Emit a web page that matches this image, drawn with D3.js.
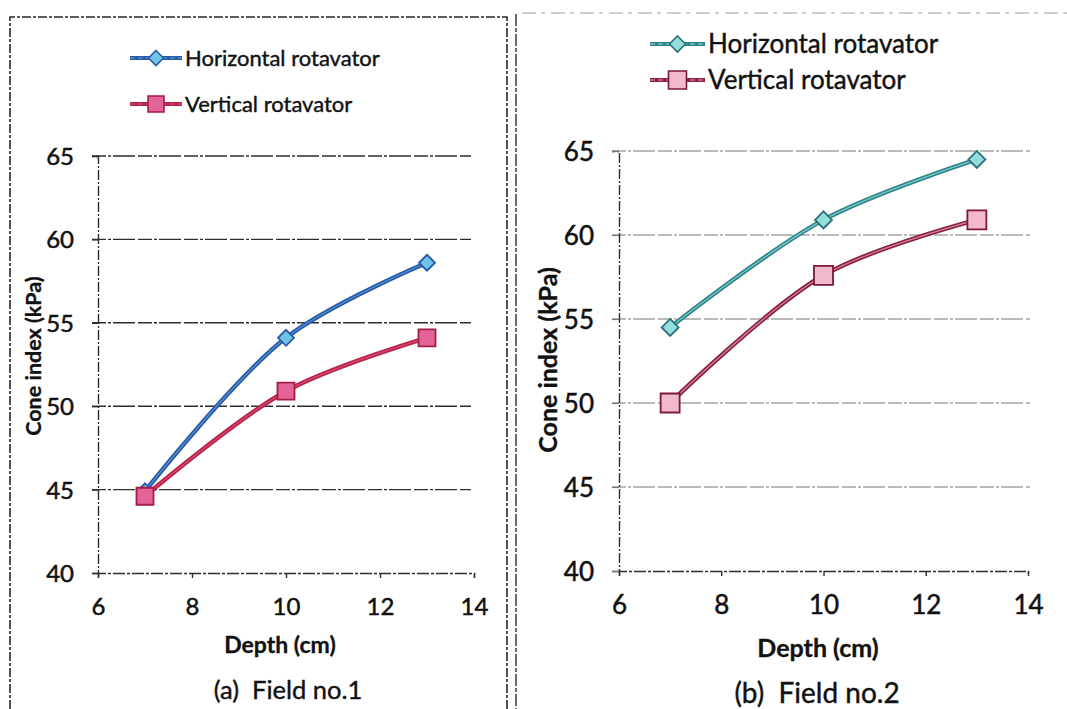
<!DOCTYPE html>
<html>
<head>
<meta charset="utf-8">
<script src="https://cdn.jsdelivr.net/npm/d3@7"></script>
<style>
  html, body { margin: 0; padding: 0; background: #ffffff; }
  svg { display: block; font-family: Lato, "Open Sans", sans-serif; }
</style>
</head>
<body>
<svg id="chart" width="1067" height="709"></svg>
<script>
// Cone index vs depth for two rotavator types in two fields
const depths = [7, 10, 13];
const field1Horizontal = [44.9, 54.1, 58.6];
const field1Vertical = [44.6, 50.9, 54.1];
const field2Horizontal = [54.5, 60.9, 64.5];
const field2Vertical = [50.0, 57.6, 60.9];
const seriesNames = ["Horizontal rotavator", "Vertical rotavator"];
const xTicks = [6, 8, 10, 12, 14];
const yTicks = [40, 45, 50, 55, 60, 65];
const xDomain = [6, 14];
const yDomain = [40, 65];
const captions = ["(a)  Field no.1", "(b)  Field no.2"];
const xTitle = "Depth (cm)";
const yTitle = "Cone index (kPa)";

const svg = d3.select("#chart");

// Panel frames (dashed, as printed)
const frame = svg.append("g").attr("fill", "none");
frame.append("path").attr("d", "M10,709 V17 H507 V709")
  .attr("stroke", "#2a2a2a").attr("stroke-width", 1.6).attr("stroke-dasharray", "9,2,3,2");
frame.append("line").attr("x1", 516).attr("x2", 516).attr("y1", 14).attr("y2", 709)
  .attr("stroke", "#2a2a2a").attr("stroke-width", 1.4).attr("stroke-dasharray", "12,2,4,2");
frame.append("line").attr("x1", 522).attr("x2", 1067).attr("y1", 13).attr("y2", 13)
  .attr("stroke", "#a0a0a0").attr("stroke-width", 1.2).attr("stroke-dasharray", "14,5,4,6");

const panels = [
  {
    x0: 98, x1: 474, y0: 573, y1: 156,
    gridLeft: 92, gridRight: 471, gridColor: "#2e2e2e", gridWidth: 1.4,
    tickLabelRight: 74, xLabelY: 607, tickSize: 24,
    yTitleX: 33, yTitleY: 356, yTitleSize: 21.5,
    xTitleX: 280, xTitleY: 645, xTitleSize: 23,
    captionX: 288, captionY: 690, captionSize: 25.5, caption: captions[0],
    legendX: 130, legendTextX: 185, legendY: [58, 104], legendSize: 22,
    series: [
      { values: field1Horizontal, marker: "diamond", outer: "#2a5aa6", inner: "#5aa0d8", fill: "#70c4ea", edge: "#2a5aa6", size: 16 },
      { values: field1Vertical, marker: "square", outer: "#b52348", inner: "#e0507a", fill: "#e4649a", edge: "#a41d43", size: 17 }
    ]
  },
  {
    x0: 619, x1: 1028, y0: 571, y1: 151,
    gridLeft: 612, gridRight: 1030, gridColor: "#777777", gridWidth: 1.2,
    tickLabelRight: 594, xLabelY: 605, tickSize: 26,
    yTitleX: 548, yTitleY: 360, yTitleSize: 25,
    xTitleX: 818, xTitleY: 648, xTitleSize: 25,
    captionX: 817, captionY: 693, captionSize: 28, caption: captions[1],
    legendX: 650, legendTextX: 708, legendY: [44, 80], legendSize: 26,
    series: [
      { values: field2Horizontal, marker: "diamond", outer: "#2f8388", inner: "#8cdcdc", fill: "#92dede", edge: "#2c7076", size: 17 },
      { values: field2Vertical, marker: "square", outer: "#8a1f3c", inner: "#e3a0b6", fill: "#f2b8cc", edge: "#7a1a34", size: 19 }
    ]
  }
];

function markerPath(type, s) {
  const h = s / 2;
  if (type === "diamond") return `M0,${-h}L${h},0L0,${h}L${-h},0Z`;
  return `M${-h},${-h}H${h}V${h}H${-h}Z`;
}

// Slightly heavier text, as in the printed figure
function ink(sel, w) {
  return sel.attr("fill", "#111").attr("stroke", "#111").attr("stroke-width", w).attr("paint-order", "stroke");
}

panels.forEach(p => {
  const x = d3.scaleLinear().domain(xDomain).range([p.x0, p.x1]);
  const y = d3.scaleLinear().domain(yDomain).range([p.y0, p.y1]);
  const g = svg.append("g");

  // Horizontal gridlines
  g.append("g").selectAll("line").data(yTicks.slice(1)).join("line")
    .attr("x1", p.gridLeft).attr("x2", p.gridRight)
    .attr("y1", d => y(d)).attr("y2", d => y(d))
    .attr("stroke", p.gridColor).attr("stroke-width", p.gridWidth)
    .attr("stroke-dasharray", "14,2,3,2,22,3");

  // Y axis
  const yAxis = g.append("g").attr("transform", `translate(${p.x0},0)`)
    .call(d3.axisLeft(y).tickValues(yTicks).tickSize(p.x0 - p.gridLeft).tickPadding(0).tickFormat(d3.format("d")));
  yAxis.select(".domain").attr("stroke", "#2e2e2e").attr("stroke-width", 1.4).attr("stroke-dasharray", "10,2,2,2");
  yAxis.selectAll(".tick line").attr("stroke", p.gridColor).attr("stroke-width", p.gridWidth);
  ink(yAxis.selectAll(".tick text")
    .attr("x", p.tickLabelRight - p.x0).attr("dy", "0.35em")
    .attr("font-size", p.tickSize).attr("font-family", "Lato, sans-serif"), 0.5);

  // X axis
  const xAxis = g.append("g").attr("transform", `translate(0,${p.y0})`)
    .call(d3.axisBottom(x).tickValues(xTicks).tickSize(5).tickSizeOuter(5).tickFormat(d3.format("d")));
  xAxis.select(".domain").attr("stroke", "#2e2e2e").attr("stroke-width", 1.4).attr("stroke-dasharray", "12,2,3,2");
  xAxis.selectAll(".tick line").attr("stroke", "#2e2e2e").attr("stroke-width", 1.4);
  ink(xAxis.selectAll(".tick text")
    .attr("y", p.xLabelY - p.y0).attr("dy", "0.35em")
    .attr("font-size", p.tickSize).attr("font-family", "Lato, sans-serif"), 0.5);

  // Axis titles and caption
  ink(g.append("text").text(yTitle)
    .attr("transform", `translate(${p.yTitleX},${p.yTitleY}) rotate(-90)`)
    .attr("text-anchor", "middle").attr("dy", "0.35em")
    .attr("font-size", p.yTitleSize).attr("font-weight", 700), 0.3);
  ink(g.append("text").text(xTitle)
    .attr("x", p.xTitleX).attr("y", p.xTitleY).attr("dy", "0.35em")
    .attr("text-anchor", "middle").attr("font-size", p.xTitleSize).attr("font-weight", 700), 0.3);
  ink(g.append("text").text(p.caption)
    .attr("x", p.captionX).attr("y", p.captionY).attr("dy", "0.35em")
    .attr("text-anchor", "middle").attr("font-size", p.captionSize)
    .attr("xml:space", "preserve").style("white-space", "pre"), 0.4);

  // Series lines (smoothed) and markers
  const line = d3.line().x(d => x(d.x)).y(d => y(d.y)).curve(d3.curveCatmullRom.alpha(0.5));
  p.series.forEach(s => {
    const pts = depths.map((d, i) => ({ x: d, y: s.values[i] }));
    g.append("path").datum(pts).attr("d", line)
      .attr("fill", "none").attr("stroke", s.outer).attr("stroke-width", 4.5).attr("stroke-linecap", "round");
    g.append("path").datum(pts).attr("d", line)
      .attr("fill", "none").attr("stroke", s.inner).attr("stroke-width", 1.2).attr("stroke-opacity", 0.8);
  });
  p.series.forEach(s => {
    const pts = depths.map((d, i) => ({ x: d, y: s.values[i] }));
    g.append("g").selectAll("path").data(pts).join("path")
      .attr("transform", d => `translate(${x(d.x)},${y(d.y)})`)
      .attr("d", markerPath(s.marker, s.size))
      .attr("fill", s.fill).attr("stroke", s.edge).attr("stroke-width", 1.8);
  });

  // Legend
  const lg = g.append("g");
  p.series.forEach((s, i) => {
    const ly = p.legendY[i];
    const lx1 = p.legendX, lx2 = p.legendTextX - 3;
    lg.append("line").attr("x1", lx1).attr("x2", lx2).attr("y1", ly).attr("y2", ly)
      .attr("stroke", s.outer).attr("stroke-width", 4);
    lg.append("line").attr("x1", lx1).attr("x2", lx2).attr("y1", ly).attr("y2", ly)
      .attr("stroke", s.inner).attr("stroke-width", 1.2).attr("stroke-dasharray", "5,3");
    lg.append("path").attr("transform", `translate(${(lx1 + lx2) / 2},${ly})`)
      .attr("d", markerPath(s.marker, s.size - 1))
      .attr("fill", s.fill).attr("stroke", s.edge).attr("stroke-width", 1.6);
    ink(lg.append("text").text(seriesNames[i])
      .attr("x", p.legendTextX).attr("y", ly).attr("dy", "0.35em")
      .attr("font-size", p.legendSize), 0.4);
  });
});
</script>
</body>
</html>
